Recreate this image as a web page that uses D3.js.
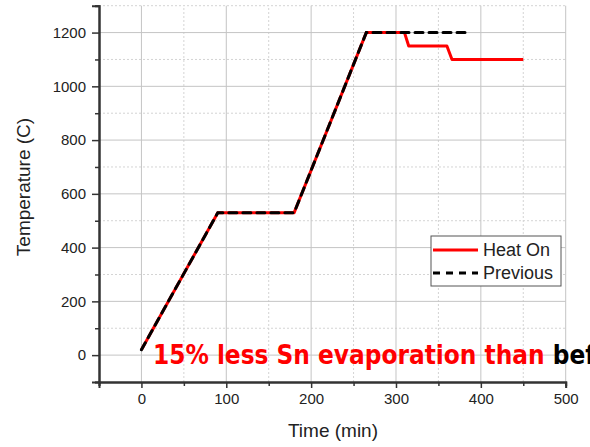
<!DOCTYPE html>
<html><head><meta charset="utf-8">
<script src="https://cdn.jsdelivr.net/npm/d3@7"></script>
<style>body{margin:0;background:#fff}svg{display:block}</style>
</head><body>
<script>
const heatOnTime = [0, 90, 180, 265, 310, 315, 360, 366, 450];
const heatOnTemp = [20, 530, 530, 1200, 1200, 1150, 1150, 1100, 1100];
const prevTime = [0, 90, 180, 265, 387];
const prevTemp = [20, 530, 530, 1200, 1200];
const xMajorTicks = [0, 100, 200, 300, 400, 500];
const xMinorTicks = [-50, 50, 150, 250, 350, 450];
const yMajorTicks = [0, 200, 400, 600, 800, 1000, 1200];
const yMinorTicks = [-100, 100, 300, 500, 700, 900, 1100, 1300];
const seriesNames = ["Heat On", "Previous"];

const W = 590, H = 447;
const svg = d3.select("body").append("svg").attr("width", W).attr("height", H);
const x = d3.scaleLinear().domain([-50, 500]).range([99, 565.7]);
const y = d3.scaleLinear().domain([-100, 1300]).range([382, 5.7]);

const g = svg.append("g");
// grid
g.selectAll(".gxm").data(xMinorTicks.filter(d => d > -50)).enter().append("line")
  .attr("x1", d => x(d)).attr("x2", d => x(d)).attr("y1", y(-100)).attr("y2", y(1300))
  .attr("stroke", "#d4d4d4").attr("stroke-width", 1).attr("stroke-dasharray", "2,2");
g.selectAll(".gym").data(yMinorTicks.filter(d => d > -100)).enter().append("line")
  .attr("x1", x(-50)).attr("x2", x(500)).attr("y1", d => y(d)).attr("y2", d => y(d))
  .attr("stroke", "#d4d4d4").attr("stroke-width", 1).attr("stroke-dasharray", "2,2");
g.selectAll(".gx").data(xMajorTicks).enter().append("line")
  .attr("x1", d => x(d)).attr("x2", d => x(d)).attr("y1", y(-100)).attr("y2", y(1300))
  .attr("stroke", "#c4c4c4").attr("stroke-width", 1);
g.selectAll(".gy").data(yMajorTicks).enter().append("line")
  .attr("x1", x(-50)).attr("x2", x(500)).attr("y1", d => y(d)).attr("y2", d => y(d))
  .attr("stroke", "#c4c4c4").attr("stroke-width", 1);

// axes
const axFont = "'Liberation Sans', Arial, sans-serif";
const xAxis = svg.append("g").attr("transform", `translate(0,${y(-100)})`)
  .call(d3.axisBottom(x).tickValues(xMajorTicks).tickSize(6).tickPadding(5).tickFormat(d3.format("d")));
const xAxisMinor = svg.append("g").attr("transform", `translate(0,${y(-100)})`)
  .call(d3.axisBottom(x).tickValues(xMinorTicks).tickSize(4).tickFormat(""));
const yAxis = svg.append("g").attr("transform", `translate(${x(-50)},0)`)
  .call(d3.axisLeft(y).tickValues(yMajorTicks).tickSize(7).tickPadding(6).tickFormat(d3.format("d")));
const yAxisMinor = svg.append("g").attr("transform", `translate(${x(-50)},0)`)
  .call(d3.axisLeft(y).tickValues(yMinorTicks).tickSize(4).tickFormat(""));
[xAxis, xAxisMinor, yAxis, yAxisMinor].forEach(a => {
  a.select(".domain").attr("stroke", "#333").attr("stroke-width", 2);
  a.selectAll(".tick line").attr("stroke", "#333").attr("stroke-width", 1.5);
  a.selectAll("text").attr("font-family", axFont).attr("font-size", 15).attr("fill", "#222");
});

// lines
const line = d3.line().x(d => x(d[0])).y(d => y(d[1]));
const heatData = heatOnTime.map((t, i) => [t, heatOnTemp[i]]);
const prevData = prevTime.map((t, i) => [t, prevTemp[i]]);
svg.append("path").datum(heatData).attr("d", line).attr("fill", "none")
  .attr("stroke", "#ff0000").attr("stroke-width", 3).attr("stroke-linejoin", "round");
svg.append("path").datum(prevData).attr("d", line).attr("fill", "none")
  .attr("stroke", "#000").attr("stroke-width", 3).attr("stroke-dasharray", "8,6")
  .attr("stroke-linecap", "round");

// axis titles
svg.append("text").attr("x", 333).attr("y", 437).attr("text-anchor", "middle")
  .attr("font-family", axFont).attr("font-size", 19).attr("fill", "#222").text("Time (min)");
svg.append("text").attr("transform", "translate(30,187) rotate(-90)").attr("text-anchor", "middle")
  .attr("font-family", axFont).attr("font-size", 19).attr("fill", "#222").text("Temperature (C)");

// legend
const lg = svg.append("g").attr("transform", "translate(431,236)");
lg.append("rect").attr("width", 130).attr("height", 50).attr("fill", "#fff")
  .attr("stroke", "#555").attr("stroke-width", 1);
lg.append("line").attr("x1", 2).attr("x2", 47).attr("y1", 14).attr("y2", 14)
  .attr("stroke", "#ff0000").attr("stroke-width", 3);
lg.append("line").attr("x1", 2).attr("x2", 47).attr("y1", 37).attr("y2", 37)
  .attr("stroke", "#000").attr("stroke-width", 3).attr("stroke-dasharray", "7,6");
lg.selectAll(".lt").data(seriesNames).enter().append("text")
  .attr("x", 52).attr("y", (d, i) => 20 + i * 23)
  .attr("font-family", axFont).attr("font-size", 18).attr("fill", "#222").text(d => d);

// annotation
const ann = svg.append("text").attr("x", 153).attr("y", 364)
  .attr("font-family", "'DejaVu Sans Condensed', 'DejaVu Sans', sans-serif").attr("font-weight", "bold").attr("font-size", 25);
const redPart = ann.append("tspan").attr("fill", "#ff0000").text("15% less Sn evaporation than ");
ann.append("tspan").attr("fill", "#000").text("before");
// fit red part width to the reference span
const wRed = redPart.node().getComputedTextLength();
const target = 400;
if (wRed > 0) ann.attr("font-size", 25 * target / wRed);
</script>
</body></html>
